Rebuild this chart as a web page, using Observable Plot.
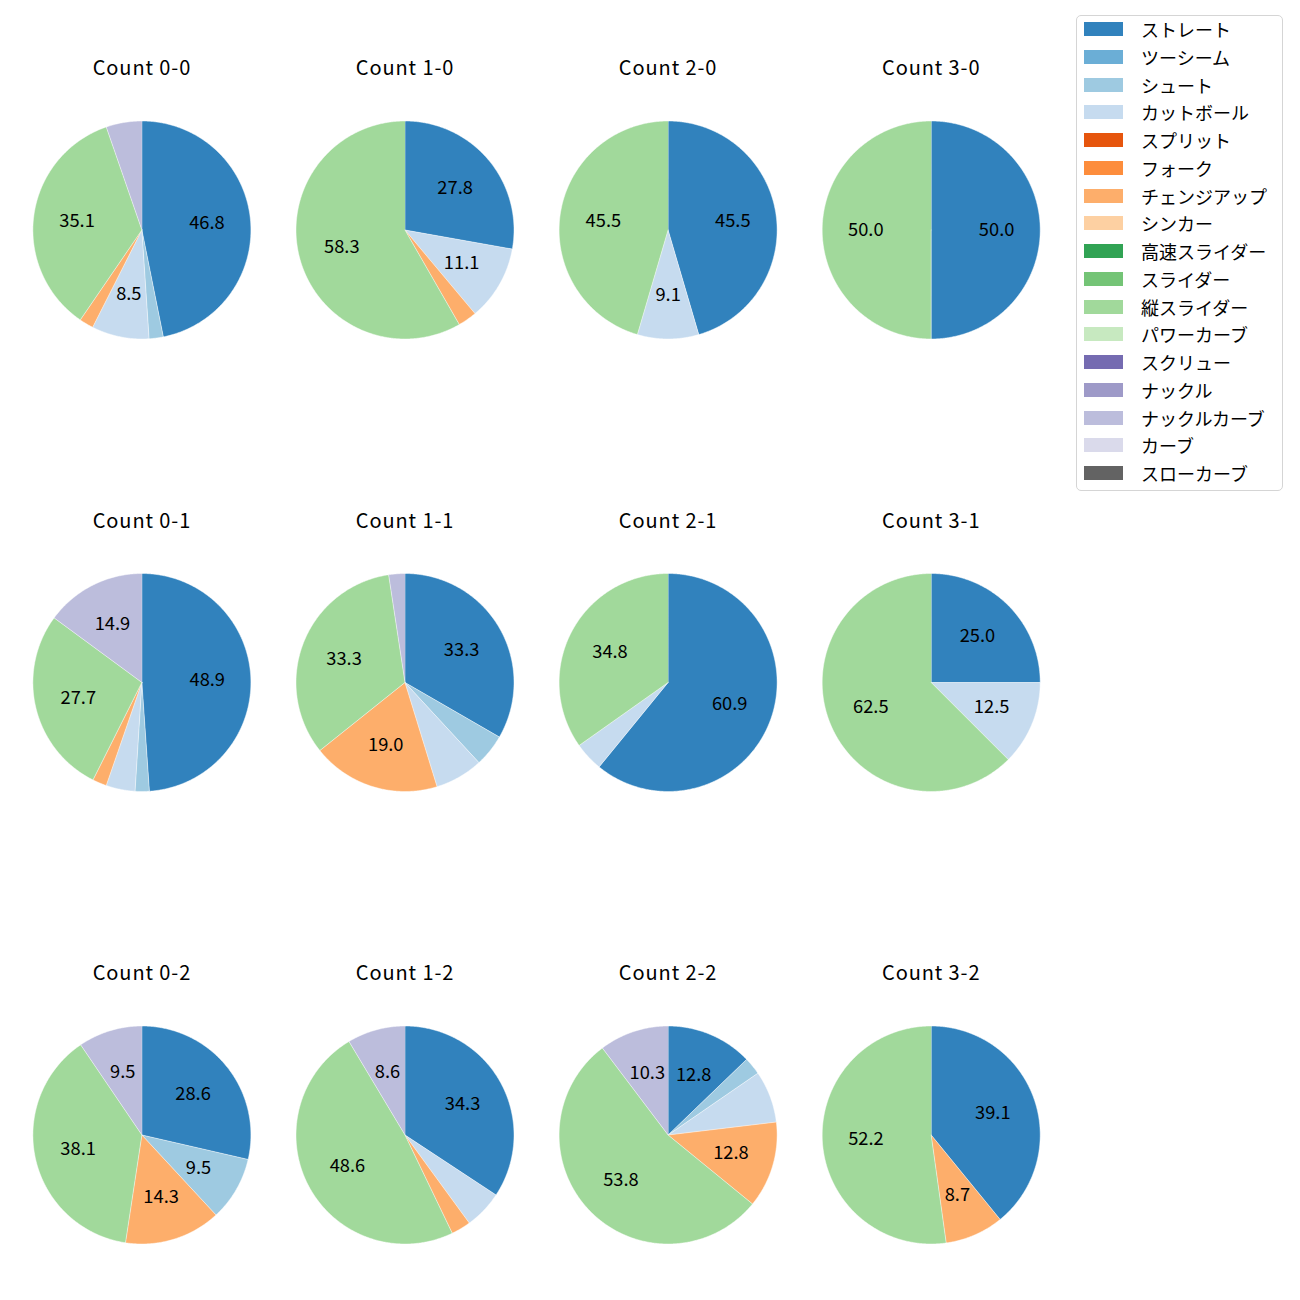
<!DOCTYPE html>
<html><head><meta charset="utf-8">
<script src="https://cdn.jsdelivr.net/npm/d3@7"></script>
<script src="https://cdn.jsdelivr.net/npm/@observablehq/plot@0.6"></script>
<style>
body{margin:0;background:#fff;font-family:"Noto Sans CJK JP","Noto Sans",sans-serif;}
#wrap{position:relative;width:1300px;height:1300px;}
#legend{position:absolute;left:1076px;top:15px;width:205px;height:474px;border:1px solid #d5d5d5;border-radius:5px;background:#fff;}
.item{position:absolute;left:7px;height:20px;display:flex;align-items:center;}
.sw{width:39px;height:14px;}
.lab{margin-left:18px;font-size:18px;color:#000;line-height:20px;white-space:nowrap;}
</style></head><body><div id="wrap"></div>
<script>
// Legend categories and colours
const pitches = ["ストレート","ツーシーム","シュート","カットボール","スプリット","フォーク","チェンジアップ","シンカー","高速スライダー","スライダー","縦スライダー","パワーカーブ","スクリュー","ナックル","ナックルカーブ","カーブ","スローカーブ"];
const colors = ["#3182bd","#6baed6","#9ecae1","#c6dbef","#e6550d","#fd8d3c","#fdae6b","#fdd0a2","#31a354","#74c476","#a1d99b","#c7e9c0","#756bb1","#9e9ac8","#bcbddc","#dadaeb","#636363"];

// Counts (balls-strikes)
const counts = ["0-0","1-0","2-0","3-0","0-1","1-1","2-1","3-1","0-2","1-2","2-2","3-2"];

// Percentages per pitch type, one value per count (same order as counts)
const straight = [46.8,27.8,45.5,50.0,48.9,33.3,60.9,25.0,28.6,34.3,12.8,39.1];
const shoot    = [2.1,0,0,0,2.1,4.8,0,0,9.5,0,2.6,0];
const cutter   = [8.5,11.1,9.1,0,4.3,7.1,4.3,12.5,0,5.7,7.7,0];
const changeup = [2.1,2.8,0,0,2.1,19.0,0,0,14.3,2.9,12.8,8.7];
const vslider  = [35.1,58.3,45.5,50.0,27.7,33.3,34.8,62.5,38.1,48.6,53.8,52.2];
const kcurve   = [5.3,0,0,0,14.9,2.4,0,0,9.5,8.6,10.3,0];

const series = {"ストレート": straight, "シュート": shoot, "カットボール": cutter, "チェンジアップ": changeup, "縦スライダー": vslider, "ナックルカーブ": kcurve};

// Build one shared table (slice outlines, labels, titles) for faceting
const rows = [];
counts.forEach((c, i) => {
  const [b, s] = c.split("-").map(Number);
  const col = b, row = s;
  rows.push({kind: "title", col, row, text: "Count " + c});
  const vals = pitches.map(p => series[p] ? series[p][i] : 0);
  const total = d3.sum(vals);
  let acc = 0;
  vals.forEach((v, k) => {
    if (!v) return;
    const a0 = acc / total * 2 * Math.PI;
    acc += v;
    const a1 = acc / total * 2 * Math.PI;
    const sid = c + "|" + pitches[k];
    if (a1 - a0 < 2 * Math.PI - 1e-9) rows.push({kind: "slice", col, row, sid, pitch: pitches[k], x: 0, y: 0});
    const n = Math.max(2, Math.ceil((a1 - a0) / (Math.PI / 360)));
    for (let j = 0; j <= n; j++) {
      const a = a0 + (a1 - a0) * j / n;
      rows.push({kind: "slice", col, row, sid, pitch: pitches[k], x: Math.sin(a), y: Math.cos(a)});
    }
    const pct = v / total * 100;
    if (pct > 8) {
      const m = (a0 + a1) / 2;
      rows.push({kind: "label", col, row, x: 0.6 * Math.sin(m), y: 0.6 * Math.cos(m), text: v.toFixed(1)});
    }
  });
});

const R = 109;          // pie radius in px
const colStep = 263.1, rowStep = 452.5;
const bandH = 395, centerOff = 229.5;
const XR = colStep / 2 / R;

const chart = Plot.plot({
  width: 1300, height: 1300,
  marginTop: 0, marginRight: 0, marginBottom: 0, marginLeft: 0,
  facet: {data: rows, x: "col", y: "row", marginTop: 0, marginRight: 0, marginBottom: 0, marginLeft: 0},
  fx: {domain: [0,1,2,3], range: [141.4 - colStep/2, 141.4 - colStep/2 + 4*colStep], paddingInner: 0, paddingOuter: 0, round: false, axis: null},
  fy: {domain: [0,1,2], range: [0, 1300], paddingInner: 3 - 1300/rowStep, paddingOuter: 0, round: false, axis: null},
  x: {domain: [-XR, XR], range: [0, colStep], axis: null},
  y: {domain: [-(bandH - centerOff)/R, centerOff/R], range: [bandH, 0], axis: null},
  color: {domain: pitches, range: colors},
  style: {fontFamily: '"Noto Sans CJK JP","Noto Sans",sans-serif', fontSize: "18px", background: "transparent", overflow: "visible"},
  marks: [
    Plot.line(rows, {filter: d => d.kind === "slice", x: "x", y: "y", z: "sid", fill: "pitch", stroke: "white", strokeWidth: 0.6, strokeOpacity: 0.8}),
    Plot.text(rows, {filter: d => d.kind === "label", x: "x", y: "y", text: "text", fill: "black", fontSize: 18.3}),
    Plot.text(rows, {filter: d => d.kind === "title", frameAnchor: "top", lineAnchor: "middle", dy: 68.5, text: "text", fill: "black", fontSize: 20})
  ]
});

// widen title letter spacing to match the reference's wider Latin face
d3.select(chart).selectAll("text").filter(function() { return this.textContent.startsWith("Count"); })
  .attr("letter-spacing", "0.9px");

const wrap = document.getElementById("wrap");
wrap.appendChild(chart);

// Legend
const leg = document.createElement("div");
leg.id = "legend";
pitches.forEach((p, i) => {
  const it = document.createElement("div");
  it.className = "item";
  it.style.top = (13 + 27.75 * i - 10) + "px";
  const sw = document.createElement("div");
  sw.className = "sw";
  sw.style.background = colors[i];
  const lab = document.createElement("span");
  lab.className = "lab";
  lab.textContent = p;
  it.appendChild(sw); it.appendChild(lab);
  leg.appendChild(it);
});
wrap.appendChild(leg);
</script></body></html>
